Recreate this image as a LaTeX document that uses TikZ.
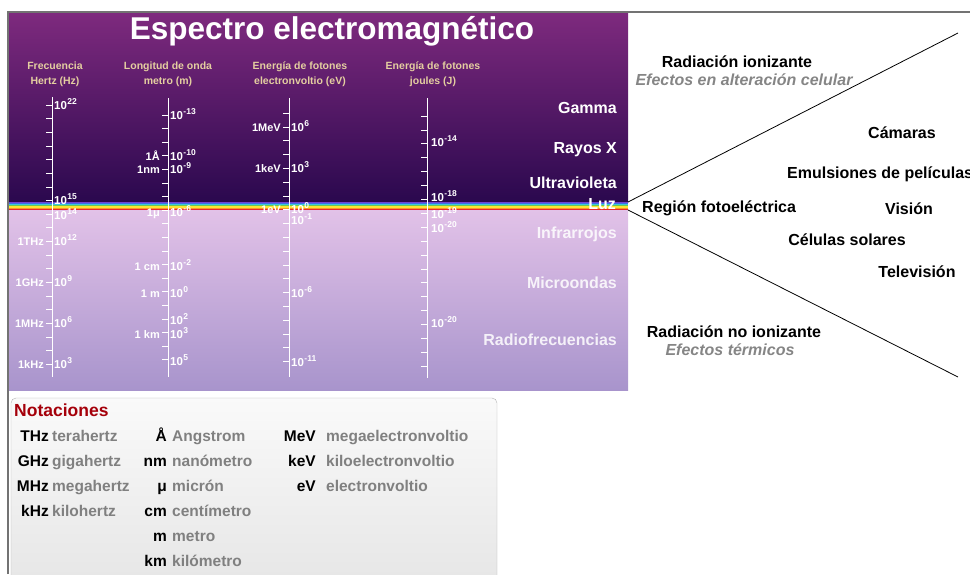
\documentclass[tikz,border=0pt]{standalone}
\usepackage{fontspec}
\setmainfont{Liberation Sans}
\usetikzlibrary{positioning}
\tikzset{>=stealth}

\definecolor{uvtop}{RGB}{126,42,126}
\definecolor{uvbot}{RGB}{42,8,78}
\definecolor{irtop}{RGB}{226,194,232}
\definecolor{irbot}{RGB}{168,148,204}
\definecolor{headtan}{RGB}{228,206,160}
\definecolor{notared}{RGB}{165,0,10}
\definecolor{bviolet}{RGB}{110,70,210}
\definecolor{bblue}{RGB}{60,110,230}
\definecolor{bcyan}{RGB}{60,200,220}
\definecolor{bgreen}{RGB}{110,200,80}
\definecolor{byellow}{RGB}{250,230,50}
\definecolor{borange}{RGB}{250,150,40}
\definecolor{bred}{RGB}{230,40,40}

\newcommand{\pw}[1]{10\kern0.5pt\raisebox{0.75ex}{\fontsize{8.5}{8.5}\selectfont #1}}

\tikzset{
  axisline/.style={white,line width=0.9pt},
  tickline/.style={white,line width=0.8pt},
  faint/.style={text opacity=0.85},
  pwlbl/.style={anchor=base west,inner sep=0pt,text=white,font=\fontsize{11.5}{12}\selectfont\bfseries},
  unitlbl/.style={anchor=base east,inner sep=0pt,text=white,font=\fontsize{11}{12}\selectfont\bfseries},
  colhead/.style={align=center,text=headtan,font=\fontsize{10.5}{15}\selectfont\bfseries},
  bandlbl/.style={anchor=east,inner sep=0pt,text=white,font=\fontsize{16}{18}\selectfont\bfseries},
  sidetxt/.style={inner sep=0pt,font=\fontsize{16}{18}\selectfont\bfseries},
  effect/.style={inner sep=0pt,text=black!48,font=\fontsize{16}{18}\selectfont\bfseries\itshape},
  abbr/.style={anchor=base east,inner sep=0pt,font=\fontsize{15.5}{17}\selectfont\bfseries},
  desc/.style={anchor=base west,inner sep=0pt,text=black!50,font=\fontsize{15.5}{17}\selectfont\bfseries}
}

\begin{document}
\begin{tikzpicture}[x=1pt,y=-1pt]
\clip (0,0) rectangle (970,574);
% panel
\shade [top color=uvtop,bottom color=uvbot] (9,13) rectangle (628,202.5);
\shade [top color=irtop,bottom color=irbot] (9,209.5) rectangle (628,390);
\foreach \c [count=\i] in {bviolet,bblue,bcyan,bgreen,byellow,borange,bred}
  \fill [\c] (9,{200.9+\i*1.1}) rectangle (628,{202.1+\i*1.1});
\draw [black!55,line width=1.2pt] (8,574)--(8,12)--(970,12);

\node [text=white,font=\fontsize{31.5}{36}\selectfont\bfseries] (title) at (332,31) {Espectro electromagnético};
\node [colhead] (hfreq) at (55,74) {Frecuencia\\Hertz (Hz)};
\node [colhead] (hwave) at (168,74) {Longitud de onda\\metro (m)};
\node [colhead] (hev) at (300,74) {Energía de fotones\\electronvoltio (eV)};
\node [colhead] (hjou) at (433,74) {Energía de fotones\\joules (J)};

% frecuencia
\draw [axisline] (52,97)--(52,377);
\foreach \n in {3,...,22}
  \draw [tickline] (46,{105+(22-\n)*13.65})--(52,{105+(22-\n)*13.65});
\foreach \n/\y [count=\k] in {22/105,15/200,14/215,12/241,9/282,6/323,3/364}
  \node [pwlbl] (fr\k) at (54,\y+4) {\pw{\n}};
\foreach \u/\y [count=\k] in {1THz/241,1GHz/282,1MHz/323,1kHz/364}
  \node [unitlbl] (fu\k) at (44,\y+4) {\u};

% longitud de onda
\draw [axisline] (168,98)--(168,377);
\foreach \n in {-13,...,5}
  \draw [tickline] (162,{115+(\n+13)*13.6})--(168,{115+(\n+13)*13.6});
\foreach \n/\y [count=\k] in {-13/115,-10/156,-9/169,-6/212,-2/266,0/293,2/320,3/334,5/361}
  \node [pwlbl] (wl\k) at (170,\y+4) {\pw{\n}};
\foreach \u/\y [count=\k] in {1Å/156,1nm/169,1μ/212,1 cm/266,1 m/293,1 km/334}
  \node [unitlbl] (wu\k) at (160,\y+4) {\u};

% energia eV
\draw [axisline] (289,98)--(289,377);
\foreach \n in {-11,...,7}
  \draw [tickline] (283,{127+(6-\n)*13.8})--(289,{127+(6-\n)*13.8});
\foreach \n/\y [count=\k] in {6/127,3/168,0/209,-1/220,-6/293,-11/362}
  \node [pwlbl] (ev\k) at (291,\y+4) {\pw{\n}};
\foreach \u/\y [count=\k] in {1MeV/127,1keV/168,1eV/209}
  \node [unitlbl] (eu\k) at (281,\y+4) {\u};

% energia J
\draw [axisline] (427,98)--(427,378);
\foreach \i in {0,...,18}
  \draw [tickline] (421,{116+\i*13.9})--(427,{116+\i*13.9});
\foreach \n/\y [count=\k] in {-14/142,-18/197,-19/214,-20/228,-20/323}
  \node [pwlbl] (jo\k) at (431,\y+4) {\pw{\n}};

% bandas
\node [bandlbl] (gamma) at (617,108) {Gamma};
\node [bandlbl] (rayx) at (617,150) {Rayos X};
\node [bandlbl] (uv) at (617,183) {Ultravioleta};
\node [bandlbl] (luz) at (616,204) {Luz};
\node [bandlbl,faint] (ir) at (617,234) {Infrarrojos};
\node [bandlbl,faint] (micro) at (617,283) {Microondas};
\node [bandlbl,faint] (radio) at (617,340) {Radiofrecuencias};

% lado derecho
\coordinate (luz up) at (628,202);
\coordinate (luz dn) at (628,210);
\coordinate (ion end) at (958,33);
\coordinate (non end) at (958,377);
\draw [line width=0.8pt] (luz up)--(ion end);
\draw [line width=0.8pt] (luz dn)--(non end);

\node [sidetxt] (ion) at (737,62) {Radiación ionizante};
\node [effect,below=5pt of ion,xshift=7pt] (ionfx) {Efectos en alteración celular};
\node [sidetxt] (cam) at (902,133) {Cámaras};
\node [sidetxt,anchor=west] (emul) at (787,174) {Emulsiones de películas};
\node [sidetxt,anchor=west] (foto) at (642,208) {Región fotoeléctrica};
\node [sidetxt] (vision) at (909,209) {Visión};
\node [sidetxt] (cel) at (847,240) {Células solares};
\node [sidetxt] (tele) at (917,272) {Televisión};
\node [sidetxt] (noion) at (734,332) {Radiación no ionizante};
\node [effect,below=5pt of noion,xshift=-4pt] (noionfx) {Efectos térmicos};

% notaciones
\shadedraw [top color=white!98!black,bottom color=white!90!black,draw=black!30,rounded corners=5pt] (11,398) rectangle (497,590);
\node [anchor=west,inner sep=0pt,text=notared,font=\fontsize{17.5}{20}\selectfont\bfseries] (nota) at (14,410) {Notaciones};
\foreach \a/\d [count=\i] in {THz/terahertz,GHz/gigahertz,MHz/megahertz,kHz/kilohertz}{
  \node [abbr] (fa\i) at (49,{416+25*\i}) {\a};
  \node [desc] (fd\i) at (52,{416+25*\i}) {\d};
}
\foreach \a/\d [count=\i] in {Å/Angstrom,nm/nanómetro,μ/micrón,cm/centímetro,m/metro,km/kilómetro}{
  \node [abbr] (la\i) at (167,{416+25*\i}) {\a};
  \node [desc] (ld\i) at (172,{416+25*\i}) {\d};
}
\foreach \a/\d [count=\i] in {MeV/megaelectronvoltio,keV/kiloelectronvoltio,eV/electronvoltio}{
  \node [abbr] (ea\i) at (316,{416+25*\i}) {\a};
  \node [desc] (ed\i) at (326,{416+25*\i}) {\d};
}
\end{tikzpicture}
\end{document}
